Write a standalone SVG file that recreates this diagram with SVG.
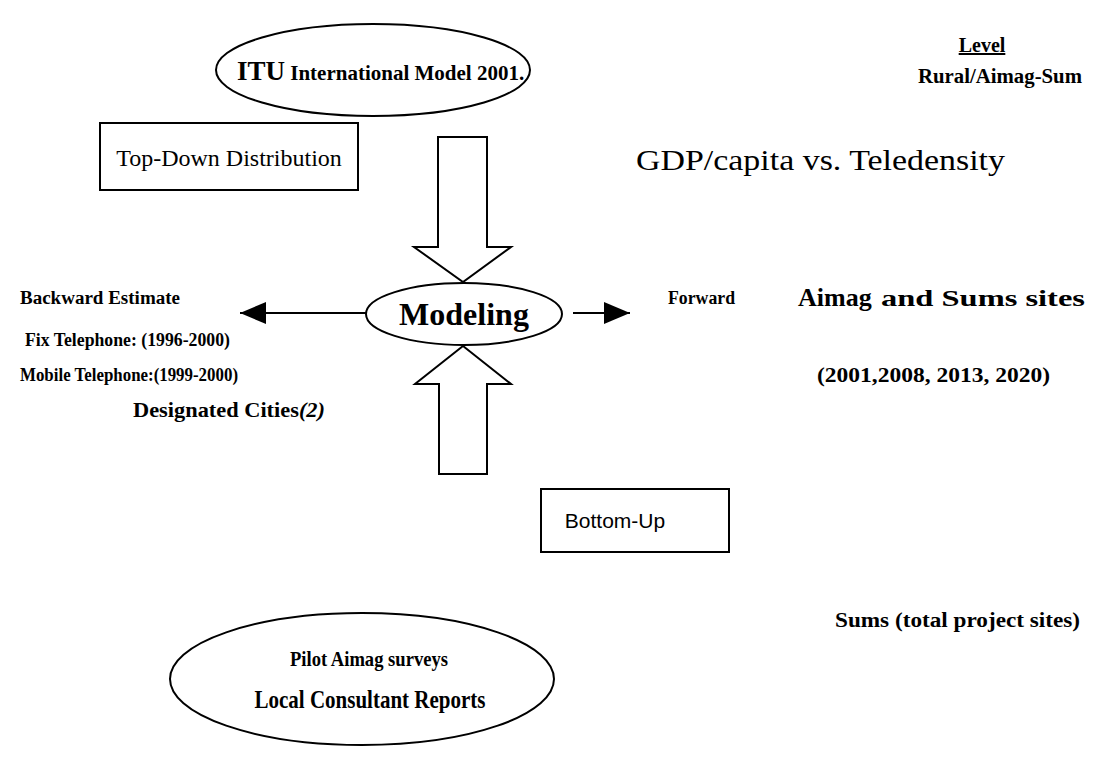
<svg xmlns="http://www.w3.org/2000/svg" width="1099" height="758" viewBox="0 0 1099 758">
<style>
.s{fill:none;stroke:#000;stroke-width:2}
.b{font-family:"Liberation Serif","Times New Roman",serif;font-weight:bold;fill:#000}
.r{font-family:"Liberation Serif","Times New Roman",serif;fill:#000}
.a{font-family:"Liberation Sans",Arial,sans-serif;fill:#000}
</style>
<defs>
<marker id="ah2" markerWidth="26" markerHeight="22" refX="26" refY="11" orient="auto" markerUnits="userSpaceOnUse" viewBox="0 0 26 22">
<path d="M0,0 L26,11 L0,22 z" fill="#000"/>
</marker>
</defs>
<rect width="1099" height="758" fill="#fff"/>

<g id="connectors">
<path class="s" d="M438,137 L487,137 L487,247 L511,247 L463,282 L414,247 L438,247 Z"/>
<path class="s" d="M463,346 L511,384 L487,384 L487,474 L439,474 L439,384 L415,384 Z"/>
<line class="s" x1="367" y1="313" x2="240" y2="313" marker-end="url(#ah2)"/>
<line class="s" x1="573" y1="313" x2="630" y2="313" marker-end="url(#ah2)"/>
</g>

<g id="itu">
<ellipse class="s" cx="373" cy="70" rx="157" ry="46"/>
<text x="237" y="80" class="b"><tspan font-size="27">ITU</tspan><tspan font-size="21"> International Model 2001.</tspan></text>
</g>

<g id="level">
<text x="982" y="52" text-anchor="middle" class="b" font-size="20" text-decoration="underline">Level</text>
<text x="918" y="83" class="b" font-size="20" textLength="164" lengthAdjust="spacingAndGlyphs">Rural/Aimag-Sum</text>
</g>

<g id="topdown">
<rect class="s" x="100" y="123" width="258" height="67"/>
<text x="229" y="166" text-anchor="middle" class="r" font-size="24">Top-Down Distribution</text>
</g>

<g id="gdp">
<text x="636" y="170" class="r" font-size="30" textLength="369" lengthAdjust="spacingAndGlyphs">GDP/capita vs. Teledensity</text>
</g>

<g id="modeling">
<ellipse class="s" cx="464" cy="314" rx="98" ry="31"/>
<text x="464" y="325" text-anchor="middle" class="b" font-size="32">Modeling</text>
</g>

<g id="backward">
<text x="20" y="304" class="b" font-size="18" textLength="160" lengthAdjust="spacingAndGlyphs">Backward Estimate</text>
<text x="25" y="346" class="b" font-size="18" textLength="205" lengthAdjust="spacingAndGlyphs">Fix Telephone: (1996-2000)</text>
<text x="20" y="381" class="b" font-size="18" textLength="218" lengthAdjust="spacingAndGlyphs">Mobile Telephone:(1999-2000)</text>
<text x="133" y="417" class="b" font-size="22" textLength="192" lengthAdjust="spacingAndGlyphs">Designated Cities<tspan font-style="italic">(2)</tspan></text>
</g>

<g id="forward">
<text x="668" y="304" class="b" font-size="18" textLength="67" lengthAdjust="spacingAndGlyphs">Forward</text>
<text x="798" y="306" class="b" font-size="26">Aimag</text>
<text x="881" y="306" class="b" font-size="24" textLength="204" lengthAdjust="spacingAndGlyphs">and Sums sites</text>
<text x="817" y="382" class="b" font-size="20" textLength="233" lengthAdjust="spacingAndGlyphs">(2001,2008, 2013, 2020)</text>
</g>

<g id="bottomup">
<rect class="s" x="541" y="489" width="188" height="63"/>
<text x="615" y="528" text-anchor="middle" class="a" font-size="21">Bottom-Up</text>
</g>

<g id="sums">
<text x="835" y="627" class="b" font-size="20" textLength="245" lengthAdjust="spacingAndGlyphs">Sums (total project sites)</text>
</g>

<g id="pilot">
<ellipse class="s" cx="362" cy="679" rx="192" ry="66"/>
<text x="369" y="666" text-anchor="middle" class="b" font-size="21" textLength="158" lengthAdjust="spacingAndGlyphs">Pilot Aimag surveys</text>
<text x="370" y="708" text-anchor="middle" class="b" font-size="25" textLength="231" lengthAdjust="spacingAndGlyphs">Local Consultant Reports</text>
</g>
</svg>
